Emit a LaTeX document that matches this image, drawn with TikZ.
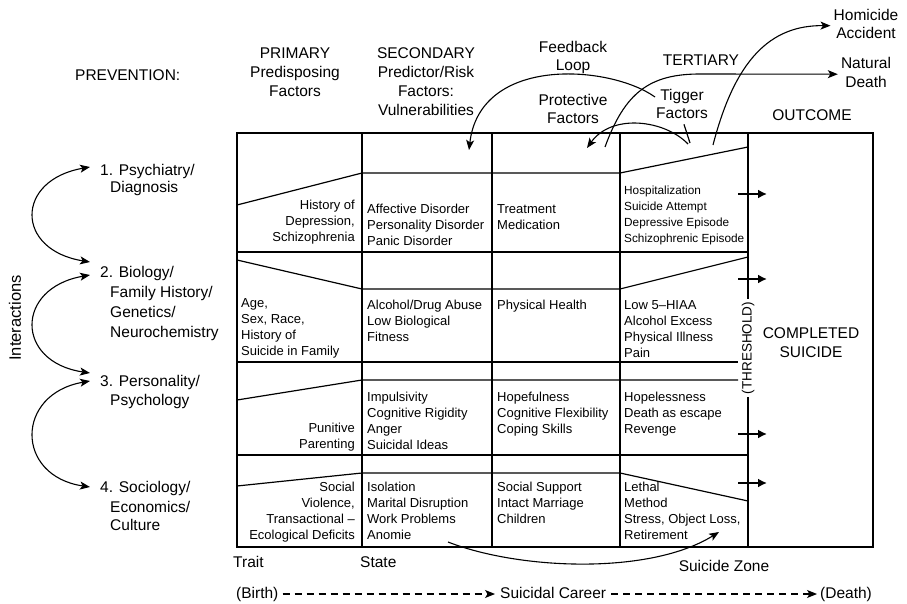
\documentclass[tikz,border=0pt]{standalone}
\usepackage{fontspec}
\setmainfont{Liberation Sans}
\usetikzlibrary{arrows.meta}
\newcommand\fbig{\fontsize{15.5}{19}\selectfont}
\newcommand\fleft{\fontsize{15.5}{20}\selectfont}
\newcommand\fcell{\fontsize{13}{16}\selectfont}
\newcommand\fsmall{\fontsize{11.8}{16}\selectfont}
\newcommand\mytab[2]{\begin{tabular}[t]{@{}#1@{}}#2\end{tabular}}
\begin{document}
\begin{tikzpicture}[x=1pt,y=-1pt,
  thickl/.style={line width=2.5pt},
  thinl/.style={line width=1.2pt},
  arr/.style={line width=1.1pt,-{Stealth[length=10pt,width=8pt,inset=2.5pt]}},
  dblarr/.style={line width=1.1pt,{Stealth[length=10pt,width=8pt,inset=2.5pt]}-{Stealth[length=10pt,width=8pt,inset=2.5pt]}},
  outarr/.style={line width=2.2pt,-{Latex[length=9pt,width=9pt]}},
  dasharr/.style={line width=1.1pt,dash pattern=on 7pt off 5pt,-{Stealth[length=10pt,width=8pt,inset=2.5pt]}},
  lt/.style={inner sep=0,anchor=base west,font=\fcell},
  rt/.style={inner sep=0,anchor=base east,font=\fcell},
  hd/.style={inner sep=0,anchor=base,font=\fbig},
  hl/.style={inner sep=0,anchor=base west,font=\fbig},
  lab/.style={inner sep=0,anchor=base west,font=\fleft},
]
\fill[white] (0,0) rectangle (907,604);
\useasboundingbox (0,0) rectangle (907,604);

% ---------- headings ----------
\node[hl] (prev) at (75,80.5) {PREVENTION:};
\node[hd] (prim) at (295,58.5) {\mytab{c}{PRIMARY\\Predisposing\\Factors}};
\node[hd] (sec) at (426,58.5) {\mytab{c}{SECONDARY\\Predictor/Risk\\Factors:\\Vulnerabilities}};
\node[hd] (feed) at (573,52.5) {\mytab{c}{Feedback\\[-1pt]Loop}};
\node[hd] (tert) at (701,65.5) {TERTIARY};
\node[hd] (prot) at (573,105.5) {\mytab{c}{Protective\\[-1pt]Factors}};
\node[hd] (tig) at (682,100.5) {\mytab{c}{Tigger\\[-1pt]Factors}};
\node[hd] (outc) at (812,120.5) {OUTCOME};
\node[hd] (hom) at (866,20.5) {\mytab{c}{Homicide\\[-1pt]Accident}};
\node[hd] (nat) at (866,68.5) {\mytab{c}{Natural\\Death}};

% ---------- frame ----------
\draw[thickl] (237,133) rectangle (873,547);
\draw[thickl] (362,133) -- (362,547);
\draw[thickl] (492,133) -- (492,547);
\draw[thickl] (620,133) -- (620,547);
\node[inner sep=3pt,rotate=90,font=\fontsize{13.5}{16}\selectfont] (thr) at (748,348) {(THRESHOLD)};
\draw[thickl] (748,133) -- (thr.east);
\draw[thickl] (thr.west) -- (748,547);
\draw[thickl] (237,252) -- (748,252);
\draw[thickl] (237,362) -- (738,362);
\draw[thickl] (237,455) -- (748,455);
% profile lines
\draw[thinl] (237,205) -- (362,173) -- (620,173) -- (748,147);
\draw[thinl] (237,260) -- (362,289) -- (620,289) -- (748,257);
\draw[thinl] (237,400) -- (362,380) -- (738,380);
\draw[thinl] (237,486) -- (362,473) -- (620,473) -- (748,501);
% outcome arrows
\foreach \yy/\nm in {194/oa, 279/ob, 434/oc, 483/od}{
  \coordinate (\nm s) at (738,\yy);
  \coordinate (\nm e) at (767,\yy);
  \draw[outarr] (\nm s) -- (\nm e);
}

% ---------- cells ----------
\node[rt] (r1c1) at (355,209.5) {\mytab{r}{History of\\Depression,\\Schizophrenia}};
\node[lt] (r1c2) at (367,213.5) {\mytab{l}{Affective Disorder\\Personality Disorder\\Panic Disorder}};
\node[lt] (r1c3) at (497,213.5) {\mytab{l}{Treatment\\Medication}};
\node[lt,font=\fsmall] (r1c4) at (624,194.5) {\mytab{l}{Hospitalization\\Suicide Attempt\\Depressive Episode\\Schizophrenic Episode}};

\node[lt] (r2c1) at (241,307.5) {\mytab{l}{Age,\\Sex, Race,\\History of\\Suicide in Family}};
\node[lt] (r2c2) at (367,309.5) {\mytab{l}{Alcohol/Drug Abuse\\Low Biological\\Fitness}};
\node[lt] (r2c3) at (497,309.5) {Physical Health};
\node[lt] (r2c4) at (624,309.5) {\mytab{l}{Low 5–HIAA\\Alcohol Excess\\Physical Illness\\Pain}};

\node[rt] (r3c1) at (355,432.5) {\mytab{r}{Punitive\\Parenting}};
\node[lt] (r3c2) at (367,401.5) {\mytab{l}{Impulsivity\\Cognitive Rigidity\\Anger\\Suicidal Ideas}};
\node[lt] (r3c3) at (497,401.5) {\mytab{l}{Hopefulness\\Cognitive Flexibility\\Coping Skills}};
\node[lt] (r3c4) at (624,401.5) {\mytab{l}{Hopelessness\\Death as escape\\Revenge}};

\node[rt] (r4c1) at (355,491.5) {\mytab{r}{Social\\Violence,\\Transactional –\\Ecological Deficits}};
\node[lt] (r4c2) at (367,491.5) {\mytab{l}{Isolation\\Marital Disruption\\Work Problems\\Anomie}};
\node[lt] (r4c3) at (497,491.5) {\mytab{l}{Social Support\\Intact Marriage\\Children}};
\node[lt] (r4c4) at (624,491.5) {\mytab{l}{Lethal\\Method\\Stress, Object Loss,\\Retirement}};

\node[hd] (comp) at (811,338.5) {\mytab{c}{COMPLETED\\SUICIDE}};

% ---------- left side ----------
\node[inner sep=0,rotate=90,font=\fontsize{16.5}{20}\selectfont] (inter) at (15,318) {Interactions};
\node[lab] (l1) at (100,175.5) {\mytab{l}{1. Psychiatry/\\[-3pt]\hspace*{10pt}Diagnosis}};
\node[lab] (l2) at (100,277.5) {\mytab{l}{2. Biology/\\\hspace*{10pt}Family History/\\\hspace*{10pt}Genetics/\\\hspace*{10pt}Neurochemistry}};
\node[lab] (l3) at (100,386.5) {\mytab{l}{3. Personality/\\[-1pt]\hspace*{10pt}Psychology}};
\node[lab] (l4) at (100,492.5) {\mytab{l}{4. Sociology/\\\hspace*{10pt}Economics/\\[-2pt]\hspace*{10pt}Culture}};

\coordinate (a1s) at (90,167);
\coordinate (a1e) at (90,262);
\coordinate (a2s) at (90,275);
\coordinate (a2e) at (90,373);
\coordinate (a3s) at (90,381);
\coordinate (a3e) at (90,487);
\draw[dblarr] (a1s) .. controls (15,180) and (15,250) .. (a1e);
\draw[dblarr] (a2s) .. controls (15,288) and (15,362) .. (a2e);
\draw[dblarr] (a3s) .. controls (15,394) and (15,476) .. (a3e);

% ---------- top arrows ----------
\coordinate (fbS) at (655,97);
\coordinate (fbE) at (469,150);
\draw[arr] (fbS) .. controls (610,65) and (480,55) .. (fbE);
\coordinate (prS) at (688,144);
\coordinate (prE) at (587,148);
\draw[arr] (prS) .. controls (665,120) and (612,113) .. (prE);
\coordinate (ndS) at (605,147);
\coordinate (ndM) at (700,74);
\draw[arr] (ndS) .. controls (625,92) and (650,74) .. (ndM) -- ([xshift=-3pt]nat.west);
\coordinate (hoS) at (713,145);
\draw[arr] (hoS) .. controls (735,60) and (770,25) .. ([xshift=-3pt]hom.west);
\coordinate (tkE) at (690,143);
\draw[thinl] ([xshift=2pt]tig.south) -- (tkE);

% ---------- bottom ----------
\coordinate (anS) at (448,542);
\coordinate (szE) at (719,532);
\draw[arr] (anS) .. controls (520,570) and (650,575) .. (szE);
\node[hl] (trait) at (233,567.5) {Trait};
\node[hl] (state) at (360,567.5) {State};
\node[hd] (sz) at (724,571.5) {Suicide Zone};
\node[hl] (birth) at (236,598.5) {(Birth)};
\node[hl] (career) at (500,598.5) {Suicidal Career};
\node[hl] (death) at (820,598.5) {(Death)};
\draw[dasharr] ([shift={(4,-4.5)}]birth.base east) -- ([shift={(-5,-4.5)}]career.base west);
\draw[dasharr] ([shift={(5,-4.5)}]career.base east) -- ([shift={(-3,-4.5)}]death.base west);
\end{tikzpicture}
\end{document}
